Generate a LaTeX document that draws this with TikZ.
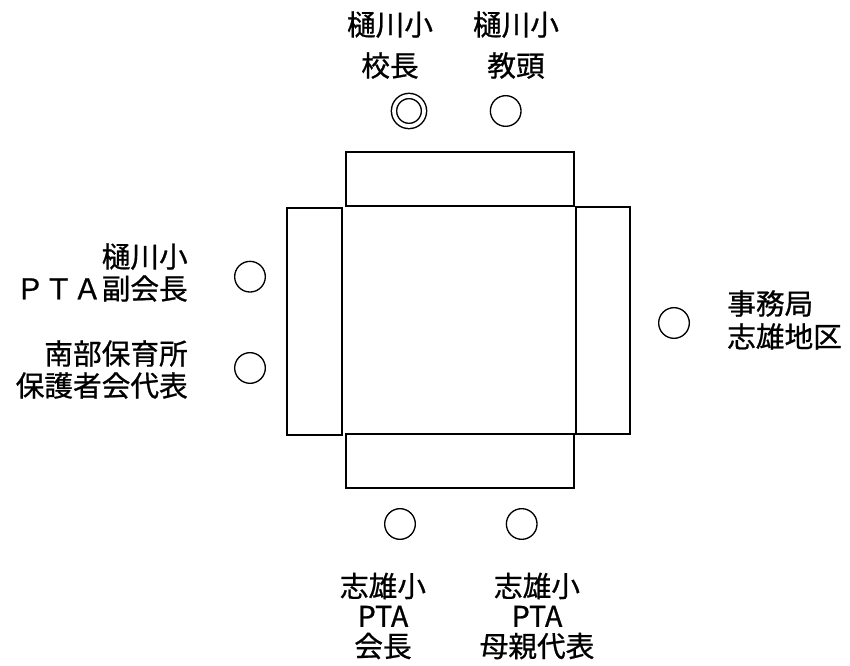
\documentclass[tikz,border=0pt]{standalone}
\usepackage{fontspec}
\newfontfamily\jpfont[FakeBold=0.8]{Noto Sans CJK JP}
\usepackage{tikz}
\usetikzlibrary{positioning, calc}
\tikzset{
    desk/.style={
        rectangle,
        draw=black,
        line width=1.3pt,
        inner sep=0pt,
    },
    seat/.style={
        circle,
        draw=black,
        line width=1pt,
        inner sep=0pt,
        minimum size=23pt,
    },
    chair/.style={
        seat,
        line width=1.1pt,
        double,
        double distance=2.8pt,
        minimum size=22.5pt,
    },
    who/.style={
        inner sep=0pt,
        font=\jpfont\fontsize{21.5}{24}\selectfont,
    },
}

\begin{document}
\begin{tikzpicture}[x=0.75pt, y=-0.75pt]
      \useasboundingbox (0,0) rectangle (850,666);

      \node [desk, minimum width=170.8pt, minimum height=40.5pt] (top) at (459.9,179) {};
      \node [desk, minimum width=170.8pt, minimum height=40.7pt] (bottom) at (459.9,460.9) {};
      \node [desk, minimum width=41.2pt, minimum height=170.2pt] (left) at (314.8,321.5) {};
      \node [desk, minimum width=40.7pt, minimum height=170.2pt] (right) at (602.9,320.2) {};

      \node [chair] (principal) at (409,111) {};
      \node [seat] (vice) at (505.7,111) {};
      \node [seat] (ptavice) at (250,276.7) {};
      \node [seat] (nursery) at (250,368) {};
      \node [seat] (office) at (674,323) {};
      \node [seat] (ptahead) at (400,524) {};
      \node [seat] (mothers) at (521.7,524) {};

      \node [who, align=center, font=\jpfont\fontsize{21.5}{30.75}\selectfont] (principal-l) at (390,45) {樋川小\\校長};
      \node [who, align=center, font=\jpfont\fontsize{21.5}{30.75}\selectfont] (vice-l) at (516,45) {樋川小\\教頭};
      \node [who, align=right, anchor=east] (ptavice-l) at (188,272.5) {樋川小\\ＰＴＡ副会長};
      \node [who, align=right, anchor=east] (nursery-l) at (188,369.5) {南部保育所\\保護者会代表};
      \node [who, align=left, anchor=west, font=\jpfont\fontsize{21.5}{24.75}\selectfont] (office-l) at (727,320) {事務局\\志雄地区};
      \node [who, align=center, font=\jpfont\fontsize{21.5}{22.5}\selectfont] (ptahead-l) at (383,616) {志雄小\\PTA\\会長};
      \node [who, align=center, font=\jpfont\fontsize{21.5}{22.5}\selectfont] (mothers-l) at (537,616) {志雄小\\PTA\\母親代表};
\end{tikzpicture}
\end{document}
